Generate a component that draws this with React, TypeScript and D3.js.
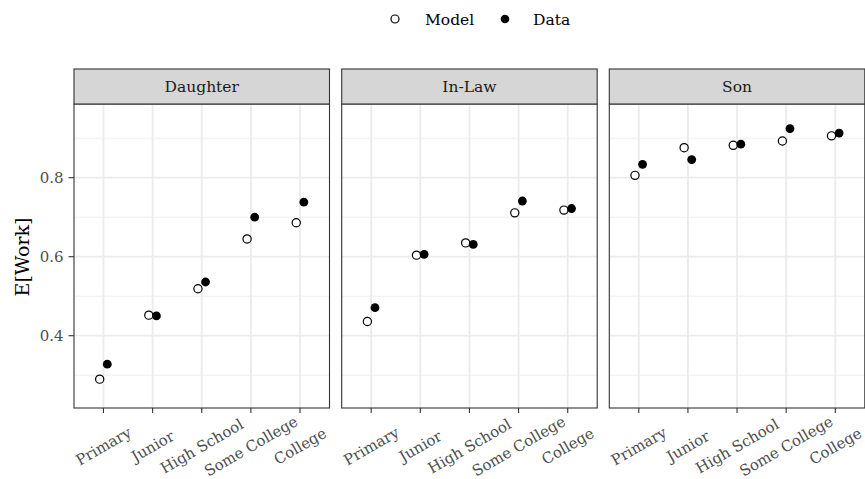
import React from "react";
import * as d3 from "d3";

const categories = ["Primary", "Junior", "High School", "Some College", "College"];
const panels = ["Daughter", "In-Law", "Son"];
const modelValues = [
  [0.290, 0.452, 0.519, 0.645, 0.686],
  [0.436, 0.604, 0.635, 0.711, 0.718],
  [0.806, 0.876, 0.882, 0.893, 0.906],
];
const dataValues = [
  [0.328, 0.450, 0.536, 0.700, 0.738],
  [0.471, 0.606, 0.631, 0.741, 0.722],
  [0.834, 0.846, 0.885, 0.924, 0.913],
];
const yTicks = [0.4, 0.6, 0.8];
const yMinor = [0.3, 0.5, 0.7, 0.9];
const yDomain = [0.217, 0.9866];

const W = 865;
const H = 479;
const FONT = "'DejaVu Serif', serif";

export default function App() {
  const panelLefts = [74, 341.7, 609.3];
  const panelW = 255.5;
  const stripTop = 69;
  const plotTop = 104;
  const plotBottom = 408;
  const y = d3.scaleLinear().domain(yDomain).range([plotBottom, plotTop]);
  const dodge = 3.8;

  return (
    <svg width={W} height={H} style={{ position: "absolute", left: 0, top: 0, background: "#fff" }} fontFamily={FONT}>
      <rect x={0} y={0} width={W} height={H} fill="#fff" />
      {/* legend */}
      <g>
        <circle cx={395} cy={19} r={4} fill="#fff" stroke="#000" strokeWidth={1.2} />
        <text x={425} y={24.5} fontSize={15.5} fill="#000">Model</text>
        <circle cx={505} cy={19} r={4.3} fill="#000" />
        <text x={533} y={24.5} fontSize={15.5} fill="#000">Data</text>
      </g>
      {/* y title */}
      <text
        transform={`translate(28.5,257) rotate(-90)`}
        textAnchor="middle"
        fontSize={19}
        fill="#000"
      >E[Work]</text>
      {/* y tick labels */}
      {yTicks.map((t) => (
        <g key={t}>
          <text x={63.5} y={y(t)} dy="0.36em" textAnchor="end" fontSize={15} fill="#4d4d4d">{t.toFixed(1)}</text>
          <line x1={68.5} x2={74} y1={y(t)} y2={y(t)} stroke="#333" strokeWidth={1.1} />
        </g>
      ))}
      {panels.map((p, pi) => {
        const left = panelLefts[pi];
        const x = d3.scalePoint<string>().domain(categories).range([left, left + panelW]).padding(0.6);
        return (
          <g key={p}>
            <rect x={left} y={plotTop} width={panelW} height={plotBottom - plotTop} fill="#fff" />
            {yMinor.map((t) => (
              <line key={"mi" + t} x1={left} x2={left + panelW} y1={y(t)} y2={y(t)} stroke="#ebebeb" strokeWidth={0.9} />
            ))}
            {yTicks.map((t) => (
              <line key={"ma" + t} x1={left} x2={left + panelW} y1={y(t)} y2={y(t)} stroke="#ebebeb" strokeWidth={1.8} />
            ))}
            {categories.map((c) => (
              <line key={"v" + c} x1={x(c)} x2={x(c)} y1={plotTop} y2={plotBottom} stroke="#ebebeb" strokeWidth={1.8} />
            ))}
            {categories.map((c, ci) => (
              <g key={"pt" + c}>
                <circle cx={(x(c) as number) - dodge} cy={y(modelValues[pi][ci])} r={4.1} fill="#fff" stroke="#000" strokeWidth={1.2} />
                <circle cx={(x(c) as number) + dodge} cy={y(dataValues[pi][ci])} r={4.4} fill="#000" />
              </g>
            ))}
            <rect x={left} y={plotTop} width={panelW} height={plotBottom - plotTop} fill="none" stroke="#333" strokeWidth={1.1} />
            <rect x={left} y={stripTop} width={panelW} height={plotTop - stripTop} fill="#d6d6d6" stroke="#333" strokeWidth={1.1} />
            <text x={left + panelW / 2} y={(stripTop + plotTop) / 2} dy="0.36em" textAnchor="middle" fontSize={15.5} fill="#1a1a1a">{p}</text>
            {categories.map((c) => (
              <g key={"xt" + c}>
                <line x1={x(c)} x2={x(c)} y1={plotBottom} y2={plotBottom + 5} stroke="#333" strokeWidth={1.1} />
                <text
                  transform={`translate(${x(c)},446) rotate(-30)`}
                  textAnchor="middle"
                  dy="0.36em"
                  fontSize={15}
                  fill="#4d4d4d"
                >{c}</text>
              </g>
            ))}
          </g>
        );
      })}
    </svg>
  );
}
